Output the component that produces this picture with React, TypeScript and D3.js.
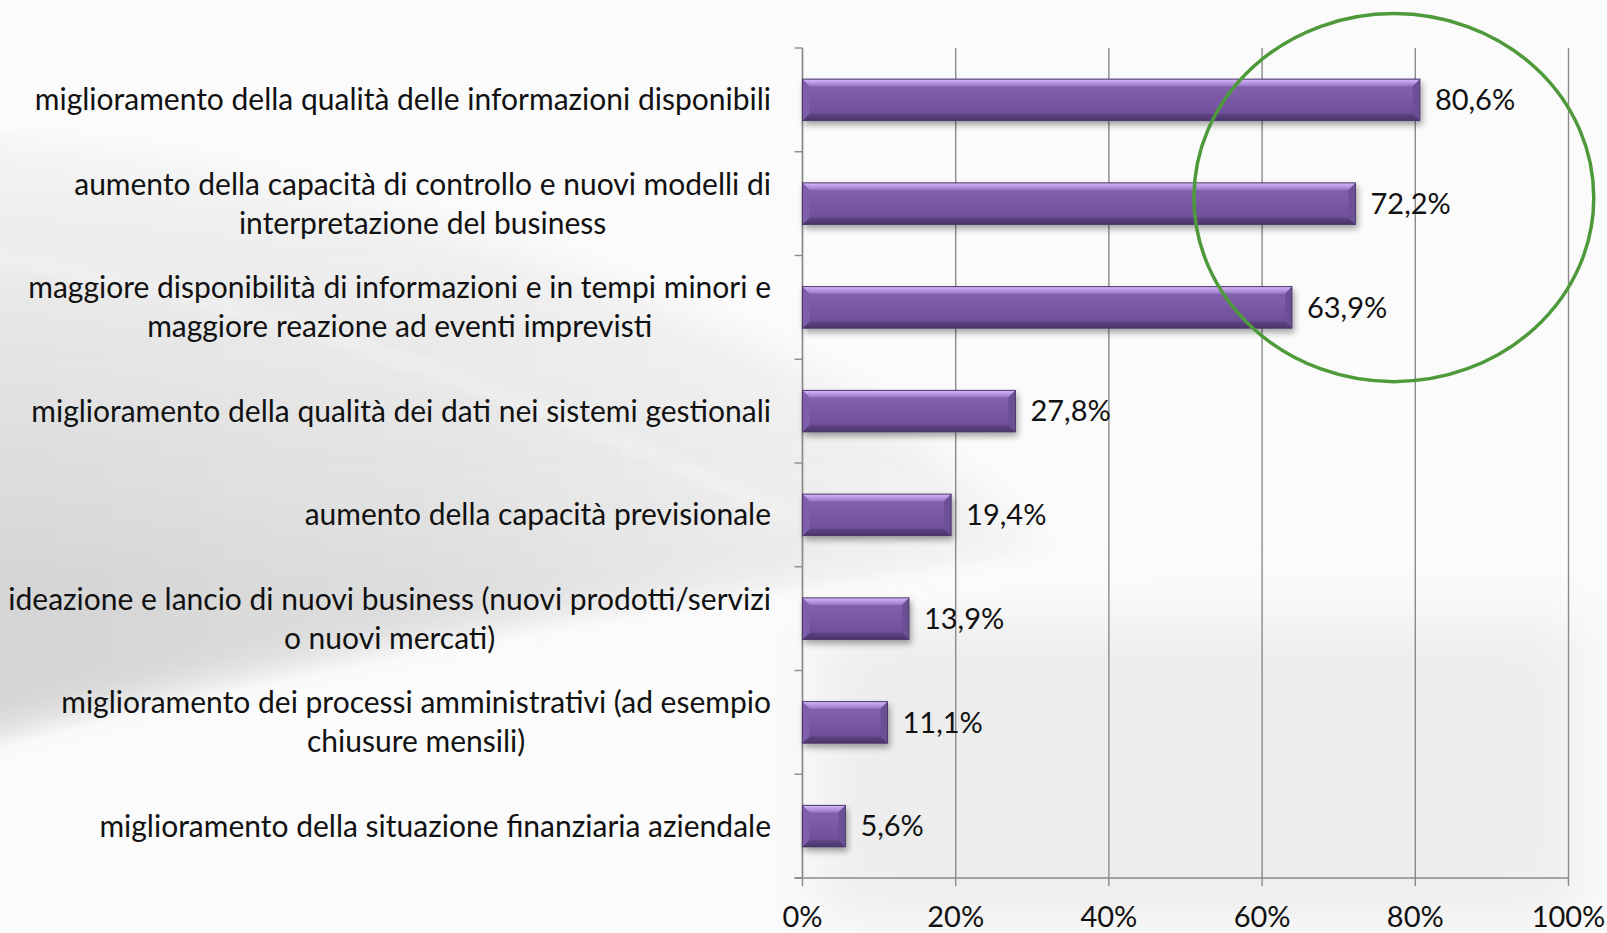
import React from "react";
import * as d3 from "d3";

const W = 1607;
const H = 933;

const categories: string[][] = [
  ["miglioramento della qualità delle informazioni disponibili"],
  ["aumento della capacità di controllo e nuovi modelli di", "interpretazione del business"],
  ["maggiore disponibilità di informazioni e in tempi minori e", "maggiore reazione ad eventi imprevisti"],
  ["miglioramento della qualità dei dati nei sistemi gestionali"],
  ["aumento della capacità previsionale"],
  ["ideazione e lancio di nuovi business (nuovi prodotti/servizi", "o nuovi mercati)"],
  ["miglioramento dei processi amministrativi (ad esempio", "chiusure mensili)"],
  ["miglioramento della situazione finanziaria aziendale"],
];
const values: number[] = [0.806, 0.722, 0.639, 0.278, 0.194, 0.139, 0.111, 0.056];
const xTicks: number[] = [0, 0.2, 0.4, 0.6, 0.8, 1.0];

const FONT = "Lato, 'Open Sans', sans-serif";
const FS_CAT = 30;
const FS_NUM = 29;

const locale = d3.formatLocale({ decimal: ",", thousands: ".", grouping: [3], currency: ["€", ""] });
const fmtVal = locale.format(".1%");
const fmtTick = locale.format(".0%");

let ctx: CanvasRenderingContext2D | null = null;
function measure(s: string, size: number): number {
  if (!ctx) {
    const c = document.createElement("canvas");
    ctx = c.getContext("2d");
  }
  if (!ctx) return s.length * size * 0.5;
  ctx.font = `${size}px Lato`;
  return ctx.measureText(s).width;
}

export default function App() {
  const left = 802.5;
  const right = 1568.5;
  const top = 48;
  const bottom = 878;
  const labelRight = 771;
  const keys = categories.map((_, i) => String(i));
  const x = d3.scaleLinear().domain([0, 1]).range([left, right]);
  const y = d3.scaleBand<string>().domain(keys).range([top, bottom]).paddingInner(0.6).paddingOuter(0.3);
  const step = y.step();
  const bw = y.bandwidth();
  const bev = 7;
  const tickLen = 8;
  const gridColor = "#8a8a8a";

  const cx = x(0.772);
  const cy = (y("0")! + y("2")! + bw) / 2 - 6;
  const rx = x(0.261) - x(0);
  const ry = 184;

  return (
    <svg width={W} height={H} style={{ position: "absolute", left: 0, top: 0, display: "block" }}>
      <defs>
        <filter id="blur40" x="-30%" y="-30%" width="160%" height="160%">
          <feGaussianBlur stdDeviation="30" />
        </filter>
        <filter id="blur18" x="-30%" y="-30%" width="160%" height="160%">
          <feGaussianBlur stdDeviation="18" />
        </filter>
        <filter id="blur6" x="-30%" y="-30%" width="160%" height="160%">
          <feGaussianBlur stdDeviation="6" />
        </filter>
        <filter id="shadow" x="-10%" y="-40%" width="130%" height="200%">
          <feGaussianBlur in="SourceAlpha" stdDeviation="3" />
          <feOffset dx="2" dy="4" result="ob" />
          <feComponentTransfer>
            <feFuncA type="linear" slope="0.35" />
          </feComponentTransfer>
          <feMerge>
            <feMergeNode />
            <feMergeNode in="SourceGraphic" />
          </feMerge>
        </filter>
        <linearGradient id="grayLeft" x1="0" y1="0" x2="1" y2="0">
          <stop offset="0" stopColor="#d3d3d3" />
          <stop offset="0.45" stopColor="#dedede" />
          <stop offset="1" stopColor="#f3f3f3" />
        </linearGradient>
        <linearGradient id="vmask" x1="0" y1="0" x2="0" y2="1">
          <stop offset="0" stopColor="#fff" stopOpacity={0.15} />
          <stop offset="0.35" stopColor="#fff" stopOpacity={0.6} />
          <stop offset="0.7" stopColor="#fff" stopOpacity={1} />
          <stop offset="1" stopColor="#fff" stopOpacity={1} />
        </linearGradient>
        <mask id="grayMask" maskUnits="userSpaceOnUse" x="0" y="0" width={W} height={H}>
          <rect x={0} y={130} width={W} height={640} fill="url(#vmask)" />
        </mask>
        <linearGradient id="face" x1="0" y1="0" x2="0" y2="1">
          <stop offset="0" stopColor="#8566b0" />
          <stop offset="0.5" stopColor="#7a58a4" />
          <stop offset="1" stopColor="#694c93" />
        </linearGradient>
        <linearGradient id="topBev" x1="0" y1="0" x2="0" y2="1">
          <stop offset="0" stopColor="#dbb8fc" />
          <stop offset="1" stopColor="#9677c4" />
        </linearGradient>
        <linearGradient id="botBev" x1="0" y1="0" x2="0" y2="1">
          <stop offset="0" stopColor="#604687" />
          <stop offset="1" stopColor="#4a346a" />
        </linearGradient>
      </defs>

      {/* background */}
      <rect x={0} y={0} width={W} height={H} fill="#fbfbfb" />
      <rect x={820} y={620} width={760} height={300} fill="#ededed" filter="url(#blur40)" />
      <g mask="url(#grayMask)">
        <path
          d="M-60,130 C250,160 600,250 900,420 L1050,555 C700,590 350,640 -60,750 Z"
          fill="url(#grayLeft)"
          filter="url(#blur18)"
        />
      </g>
      <path d="M-40,772 C250,690 600,625 1150,560" stroke="#fbfbfb" strokeWidth={28} fill="none" opacity={0.95} filter="url(#blur6)" />
      <path d="M-40,250 C250,300 500,380 800,520" stroke="#ffffff" strokeWidth={12} fill="none" opacity={0.3} filter="url(#blur6)" />

      {/* gridlines */}
      {xTicks.map((t) => (
        <line key={"g" + t} x1={x(t)} x2={x(t)} y1={top} y2={bottom + (t === 0 ? 0 : tickLen)} stroke={gridColor} strokeWidth={1.4} />
      ))}
      <line x1={left} x2={left} y1={top} y2={bottom + tickLen} stroke={gridColor} strokeWidth={1.4} />
      {d3.range(keys.length + 1).map((i) => (
        <line key={"yt" + i} x1={left - tickLen} x2={left} y1={top + i * step} y2={top + i * step} stroke={gridColor} strokeWidth={1.4} />
      ))}
      <line x1={left - tickLen} x2={right} y1={bottom} y2={bottom} stroke={gridColor} strokeWidth={1.4} />

      {/* bars */}
      {values.map((v, i) => {
        const y0 = y(keys[i])!;
        const x0 = x(0);
        const x1 = x(v);
        const y1 = y0 + bw;
        const b = Math.min(bev, (x1 - x0) / 2);
        return (
          <g key={"b" + i} filter="url(#shadow)">
            <rect x={x0} y={y0} width={x1 - x0} height={bw} fill="url(#face)" />
            <polygon points={`${x0},${y0} ${x1},${y0} ${x1 - b},${y0 + b} ${x0 + b},${y0 + b}`} fill="url(#topBev)" />
            <polygon points={`${x0},${y1} ${x1},${y1} ${x1 - b},${y1 - b} ${x0 + b},${y1 - b}`} fill="url(#botBev)" />
            <polygon points={`${x1},${y0} ${x1},${y1} ${x1 - b},${y1 - b} ${x1 - b},${y0 + b}`} fill="#6d5096" />
            <polygon points={`${x0},${y0} ${x0},${y1} ${x0 + b},${y1 - b} ${x0 + b},${y0 + b}`} fill="#7f5fab" />
            <rect x={x0} y={y0} width={x1 - x0} height={bw} fill="none" stroke="#4b3a6b" strokeWidth={1} />
          </g>
        );
      })}

      {/* category labels */}
      {categories.map((lines, i) => {
        const c = y(keys[i])! + bw / 2;
        const lh = 39;
        const start = c - ((lines.length - 1) * lh) / 2;
        const maxW = d3.max(lines, (l) => measure(l, FS_CAT)) || 0;
        const mid = labelRight - maxW / 2;
        return (
          <text key={"c" + i} fontFamily={FONT} fontSize={FS_CAT} fill="#111" textAnchor="middle">
            {lines.map((ln, j) => (
              <tspan key={j} x={mid} y={start + j * lh} dy="0.35em">
                {ln}
              </tspan>
            ))}
          </text>
        );
      })}

      {values.map((v, i) => (
        <text key={"v" + i} x={x(v) + 15} y={y(keys[i])! + bw / 2} dy="0.35em" fontFamily={FONT} fontSize={FS_NUM} fill="#111">
          {fmtVal(v)}
        </text>
      ))}

      {xTicks.map((t) => (
        <text key={"xl" + t} x={x(t)} y={917} dy="0.35em" textAnchor="middle" fontFamily={FONT} fontSize={FS_NUM} fill="#111">
          {fmtTick(t)}
        </text>
      ))}

      <ellipse cx={cx} cy={cy} rx={rx} ry={ry} fill="none" stroke="#4e9a3b" strokeWidth={3.5} />
    </svg>
  );
}
